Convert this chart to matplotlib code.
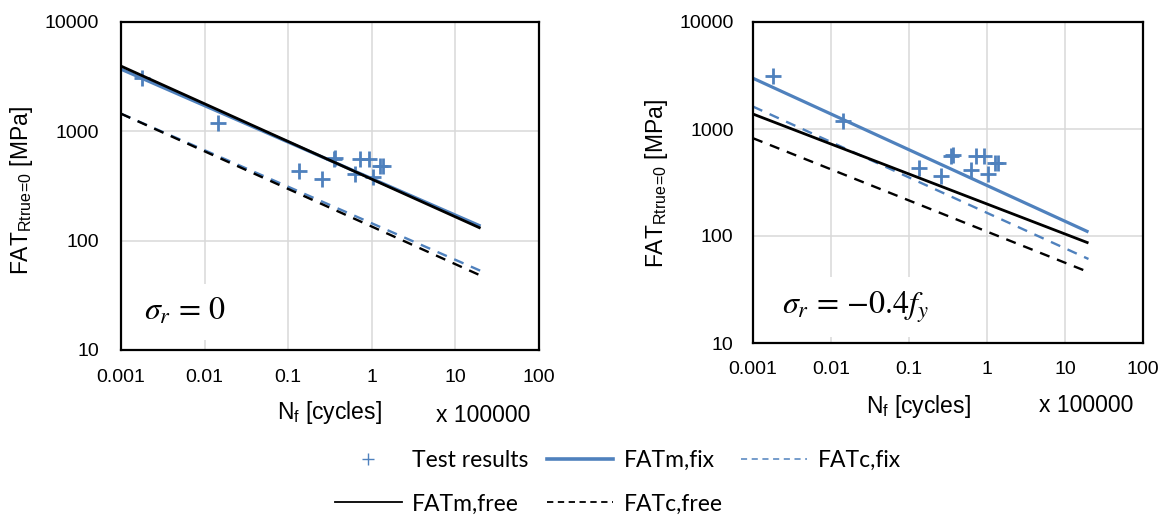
import matplotlib
matplotlib.use('Agg')
import matplotlib.pyplot as plt
from matplotlib.lines import Line2D
from matplotlib.ticker import NullLocator

plt.rcParams['font.family'] = ['Liberation Sans', 'DejaVu Sans']

BLUE = '#4f81bd'

# test results, Nf in units of 1e5 cycles
nf_test = [0.0018, 0.0144, 0.136, 0.256, 0.35, 0.365, 0.63, 0.715, 0.915, 1.02, 1.25, 1.38]
fat_test = [3100, 1200, 436, 365, 560, 570, 410, 557, 563, 380, 485, 485]

# S-N lines drawn between Nf = 0.001 and Nf = 20
nf_line = [0.001, 20]
left_m_fix = [3700, 136]
left_c_fix = [1450, 53]
left_m_free = [3950, 130]
left_c_free = [1450, 48]
right_m_fix = [2980, 109]
right_c_fix = [1620, 61]
right_m_free = [1380, 86]
right_c_free = [820, 46]

xticks = [0.001, 0.01, 0.1, 1, 10, 100]
xticklabels = ['0.001', '0.01', '0.1', '1', '10', '100']
yticks = [10, 100, 1000, 10000]
yticklabels = ['10', '100', '1000', '10000']

W, H = 1164, 518
fig = plt.figure(figsize=(W / 100, H / 100), dpi=100)
ax1 = fig.add_axes([121 / W, 1 - 350 / H, 418 / W, 328 / H])
ax2 = fig.add_axes([753 / W, 1 - 343 / H, 390 / W, 321 / H])


def draw(ax, m_fix, c_fix, m_free, c_free, note, ypad, xpad):
    ax.plot(nf_test, fat_test, ls='none', marker='+', ms=11, mew=2.0, color=BLUE, zorder=2)
    ax.plot(nf_line, m_fix, color=BLUE, lw=2.3, solid_capstyle='butt', zorder=2)
    ax.plot(nf_line, c_fix, color=BLUE, lw=1.7, dashes=(4.3, 3.4), zorder=2)
    ax.plot(nf_line, m_free, color='black', lw=2.0, solid_capstyle='butt', zorder=2)
    ax.plot(nf_line, c_free, color='black', lw=1.7, dashes=(4.3, 3.4), zorder=2)
    ax.set_xscale('log')
    ax.set_yscale('log')
    ax.set_xlim(0.001, 100)
    ax.set_ylim(10, 10000)
    ax.set_xticks(xticks, xticklabels)
    ax.set_yticks(yticks, yticklabels)
    ax.xaxis.set_minor_locator(NullLocator())
    ax.yaxis.set_minor_locator(NullLocator())
    ax.tick_params(length=0, labelsize=14)
    ax.tick_params(axis='y', pad=ypad)
    ax.tick_params(axis='x', pad=xpad)
    ax.grid(True, color='#d9d9d9', lw=1.1)
    ax.set_axisbelow(True)
    for s in ax.spines.values():
        s.set_linewidth(1.6)
        s.set_color('black')
    ax.text(note[0], note[1], note[2], transform=ax.transAxes, fontsize=23,
            math_fontfamily='stix', ha='left', va='center', zorder=1.5,
            bbox=dict(boxstyle='square,pad=0.4', fc='white', ec='none'))


draw(ax1, left_m_fix, left_c_fix, left_m_free, left_c_free,
     (0.055, 0.116, r'$\sigma_r\, =\, 0$'), 16, 14)
draw(ax2, right_m_fix, right_c_fix, right_m_free, right_c_free,
     (0.075, 0.112, r'$\sigma_r\, =\, {-}0.4f_y$'), 14, 13)

ylab = r'FAT$_{\mathregular{Rtrue\!=\!0}}$ [MPa]'
fig.text(22 / W, 1 - 190 / H, ylab, rotation=90, ha='center', va='center', fontsize=16.5)
fig.text(657 / W, 1 - 183 / H, ylab, rotation=90, ha='center', va='center', fontsize=16.5)

xlab = r'N$_{\mathregular{f}}$ [cycles]'
fig.text(329 / W, 1 - 413 / H, xlab, ha='center', va='center', fontsize=16.5)
fig.text(530 / W, 1 - 415 / H, 'x 100000', ha='right', va='center', fontsize=16.5)
fig.text(918 / W, 1 - 406 / H, xlab, ha='center', va='center', fontsize=16.5)
fig.text(1133 / W, 1 - 405 / H, 'x 100000', ha='right', va='center', fontsize=16.5)

handles = [
    Line2D([], [], ls='none', marker='+', ms=9, mew=1.0, color=BLUE),
    Line2D([], [], color='black', lw=1.3),
    Line2D([], [], color=BLUE, lw=2.6),
    Line2D([], [], color='black', lw=1.3, dashes=(3.5, 2.5)),
    Line2D([], [], color=BLUE, lw=1.1, dashes=(4, 3)),
]
labels = ['Test results', 'FATm,free', 'FATm,fix', 'FATc,free', 'FATc,fix']
fig.legend(handles, labels, ncol=3, loc='center', bbox_to_anchor=(618 / W, 1 - 482 / H),
           frameon=False, prop={'family': 'Lato', 'size': 16.5},
           handlelength=2.9, handletextpad=0.45, columnspacing=0.8, labelspacing=1.0)

fig.savefig('out.png', dpi=100)
